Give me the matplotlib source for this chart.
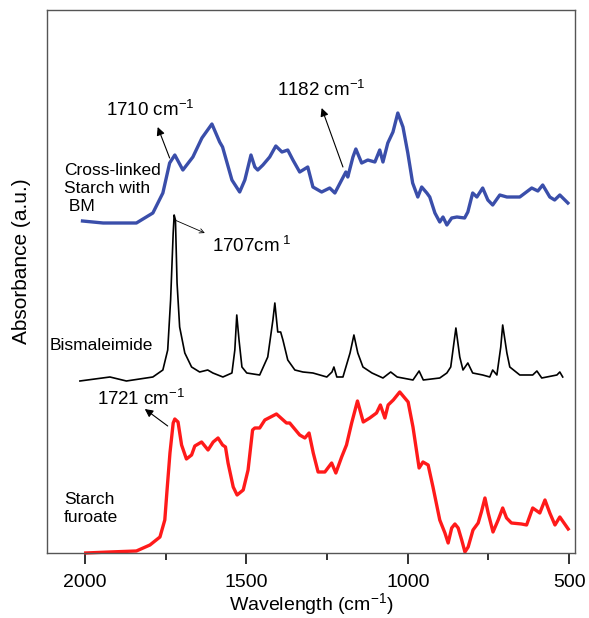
import matplotlib
matplotlib.use("Agg")
import matplotlib.pyplot as plt

plt.rcParams["font.family"] = ["Liberation Sans", "DejaVu Sans"]
plt.rcParams["mathtext.fontset"] = "custom"
plt.rcParams["mathtext.rm"] = "Liberation Sans"
plt.rcParams["mathtext.it"] = "Liberation Sans:italic"
plt.rcParams["mathtext.bf"] = "Liberation Sans:bold"

# Cross-linked starch with BM (offset spectrum, a.u.)
wn_crosslinked = [2008, 1944, 1841, 1790, 1759, 1738, 1722, 1697, 1666, 1638,
                  1607, 1583, 1574, 1545, 1521, 1505, 1486, 1474, 1465, 1449,
                  1428, 1409, 1390, 1372, 1356, 1335, 1310, 1294, 1267, 1242,
                  1226, 1205, 1192, 1186, 1170, 1161, 1143, 1124, 1102, 1087,
                  1077, 1062, 1046, 1031, 1015, 1000, 985, 969, 957, 941,
                  932, 916, 901, 891, 879, 864, 848, 824, 814, 799,
                  786, 768, 752, 737, 715, 693, 653, 616, 597, 582,
                  560, 545, 529, 504]
abs_crosslinked = [3.32, 3.30, 3.30, 3.40, 3.60, 3.90, 3.98, 3.83, 3.96, 4.15,
                   4.29, 4.11, 4.06, 3.73, 3.61, 3.73, 3.98, 3.86, 3.83, 3.88,
                   3.96, 4.07, 4.01, 4.03, 3.93, 3.81, 3.86, 3.66, 3.61, 3.65,
                   3.60, 3.73, 3.81, 3.76, 3.96, 4.04, 3.90, 3.93, 3.91, 4.03,
                   3.91, 4.10, 4.21, 4.40, 4.26, 4.00, 3.70, 3.56, 3.66, 3.60,
                   3.56, 3.40, 3.31, 3.36, 3.28, 3.35, 3.36, 3.35, 3.41, 3.60,
                   3.56, 3.65, 3.53, 3.48, 3.58, 3.56, 3.56, 3.65, 3.62, 3.68,
                   3.56, 3.53, 3.58, 3.50]

# Bismaleimide
wn_bmi = [2016, 1923, 1872, 1790, 1759, 1744, 1735, 1727, 1724, 1720,
          1715, 1707, 1691, 1670, 1645, 1620, 1604, 1573, 1545, 1536,
          1530, 1523, 1514, 1499, 1459, 1434, 1418, 1412, 1403, 1394,
          1387, 1372, 1350, 1325, 1294, 1251, 1235, 1229, 1220, 1201,
          1179, 1167, 1155, 1139, 1111, 1077, 1053, 1033, 984, 965,
          952, 901, 879, 867, 851, 839, 829, 814, 799, 768,
          746, 737, 724, 712, 706, 693, 684, 653, 613, 600,
          585, 538, 529, 520]
abs_bmi = [1.72, 1.76, 1.72, 1.76, 1.83, 2.03, 2.53, 3.20, 3.38, 3.33,
           2.70, 2.26, 2.00, 1.86, 1.81, 1.83, 1.80, 1.76, 1.80, 2.03,
           2.38, 2.13, 1.86, 1.80, 1.78, 1.96, 2.33, 2.50, 2.21, 2.21,
           2.13, 1.93, 1.83, 1.81, 1.80, 1.76, 1.81, 1.86, 1.76, 1.76,
           2.00, 2.18, 2.00, 1.86, 1.80, 1.75, 1.81, 1.76, 1.73, 1.82,
           1.73, 1.75, 1.80, 1.86, 2.25, 1.96, 1.83, 1.90, 1.80, 1.78,
           1.76, 1.83, 1.78, 2.06, 2.28, 2.00, 1.86, 1.78, 1.78, 1.82,
           1.75, 1.78, 1.81, 1.76]

# Starch furoate
wn_furoate = [1998, 1923, 1841, 1799, 1768, 1753, 1746, 1737, 1727, 1722,
              1712, 1701, 1686, 1670, 1660, 1639, 1619, 1603, 1588, 1574,
              1565, 1557, 1541, 1529, 1510, 1495, 1481, 1474, 1459, 1443,
              1407, 1376, 1366, 1335, 1319, 1306, 1293, 1278, 1257, 1236,
              1223, 1205, 1190, 1174, 1156, 1138, 1118, 1097, 1085, 1071,
              1061, 1045, 1025, 999, 984, 965, 953, 937, 922, 901,
              885, 875, 864, 854, 844, 833, 823, 813, 798, 782,
              772, 761, 751, 736, 720, 706, 694, 679, 648, 632,
              613, 591, 575, 560, 544, 529, 503]
abs_furoate = [0.00, 0.01, 0.02, 0.08, 0.16, 0.33, 0.63, 1.00, 1.30, 1.34,
               1.31, 1.08, 0.94, 0.98, 1.07, 1.11, 1.03, 1.11, 1.15, 1.08,
               1.06, 0.90, 0.66, 0.58, 0.63, 0.83, 1.23, 1.25, 1.25, 1.33,
               1.39, 1.30, 1.30, 1.18, 1.15, 1.20, 1.00, 0.81, 0.81, 0.90,
               0.80, 0.96, 1.08, 1.30, 1.52, 1.31, 1.35, 1.40, 1.48, 1.35,
               1.48, 1.53, 1.61, 1.51, 1.26, 0.85, 0.91, 0.88, 0.66, 0.33,
               0.20, 0.10, 0.25, 0.29, 0.25, 0.13, 0.01, 0.06, 0.23, 0.30,
               0.41, 0.55, 0.40, 0.21, 0.33, 0.45, 0.35, 0.30, 0.29, 0.28,
               0.45, 0.40, 0.53, 0.40, 0.28, 0.36, 0.24]

x_ticks = [2000, 1500, 1000, 500]
x_minor = [1750, 1250, 750]

fig = plt.figure(figsize=(5.89, 6.18), dpi=100)
ax = fig.add_axes([0.0798, 0.1052, 0.8964, 0.8786])

ax.plot(wn_crosslinked, abs_crosslinked, color="#3a4eaa", lw=2.4)
ax.plot(wn_bmi, abs_bmi, color="black", lw=1.2)
ax.plot(wn_furoate, abs_furoate, color="#ff1a1a", lw=2.4, clip_on=False)

ax.set_xlim(2118, 482)
ax.set_ylim(0, 5.43)
ax.set_xticks(x_ticks)
ax.set_xticks(x_minor, minor=True)
ax.set_yticks([])
ax.tick_params(axis="x", which="major", direction="out", length=8, width=1.3,
               labelsize=14, pad=7, color="#222222")
ax.tick_params(axis="x", which="minor", direction="out", length=5, width=1.3,
               color="#222222")
for sp in ax.spines.values():
    sp.set_color("#555555")
    sp.set_linewidth(1.0)

ax.set_xlabel("Wavelength (cm$^{-1}$)", fontsize=14, labelpad=0)
ax.set_ylabel("Absorbance (a.u.)", fontsize=15)
ax.yaxis.set_label_coords(-0.030, 0.538)

# Series names
ax.text(2066, 3.65, "Cross-linked\nStarch with\n BM", fontsize=12.5,
        va="center", ha="left", linespacing=1.25)
ax.text(2109, 2.07, "Bismaleimide", fontsize=12.5, va="center", ha="left")
ax.text(2066, 0.44, "Starch\nfuroate", fontsize=12.5, va="center", ha="left",
        linespacing=1.25)

# Peak annotations
arrow = dict(arrowstyle="-|>", color="black", lw=0.8,
             mutation_scale=12, shrinkA=0, shrinkB=0)
ax.annotate("", xy=(1775, 4.26), xytext=(1738, 3.95), arrowprops=arrow)
ax.text(1935, 4.37, "1710 cm$^{-1}$", fontsize=13.5, va="baseline", ha="left")

ax.annotate("", xy=(1267, 4.45), xytext=(1201, 3.86), arrowprops=arrow)
ax.text(1406, 4.57, "1182 cm$^{-1}$", fontsize=13.5, va="baseline", ha="left")

ax.annotate("", xy=(1629, 3.20), xytext=(1722, 3.33),
            arrowprops=dict(arrowstyle="->", color="black", lw=0.6,
                            mutation_scale=8, shrinkA=0, shrinkB=0))
ax.text(1607, 3.01, "1707cm$^{\\ 1}$", fontsize=13.5, va="baseline", ha="left")

ax.annotate("", xy=(1815, 1.44), xytext=(1744, 1.27), arrowprops=arrow)
ax.text(1964, 1.48, "1721 cm$^{-1}$", fontsize=13.5, va="baseline", ha="left")

fig.savefig("out.png", dpi=100)
